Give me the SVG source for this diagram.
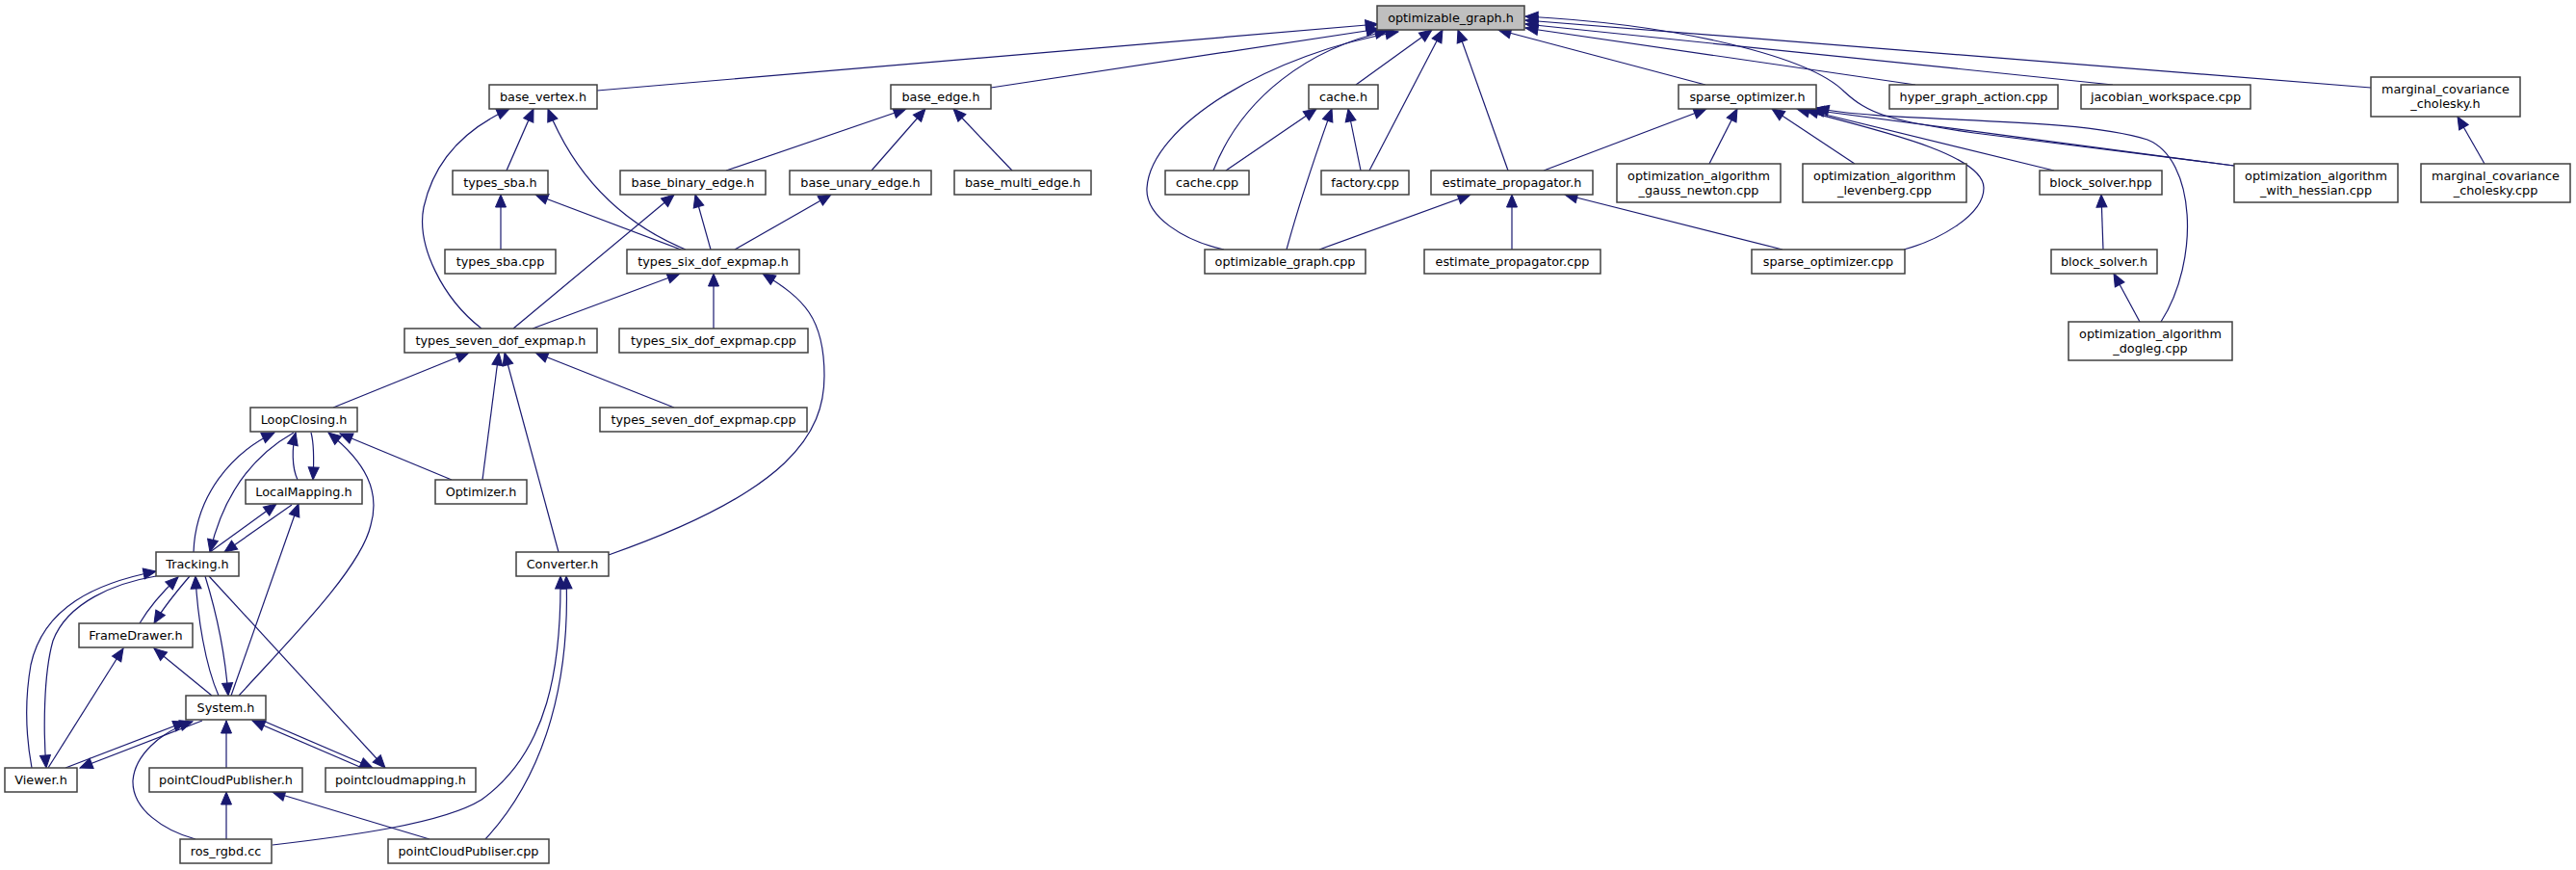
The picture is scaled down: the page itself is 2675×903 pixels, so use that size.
<svg xmlns="http://www.w3.org/2000/svg" width="2675" height="903" viewBox="0 0 2675 903">
<style>
.n{fill:#ffffff;stroke:#404040;stroke-width:1.5}
.r{fill:#bfbfbf;stroke:#404040;stroke-width:1.5}
text{font-family:"DejaVu Sans","Liberation Sans",sans-serif;font-size:12.8px;fill:#000;text-anchor:middle}
.e{fill:none;stroke:#191970;stroke-width:1.2;marker-start:url(#a)}
</style>
<defs>
<marker id="a" markerUnits="userSpaceOnUse" markerWidth="16" markerHeight="14" viewBox="0 -7 16 14" refX="13" refY="0" orient="auto-start-reverse" overflow="visible">
<path d="M0,-5.5L13,0L0,5.5z" fill="#191970" stroke="#191970" stroke-width="1"/>
</marker>
</defs>
<rect width="2675" height="903" fill="#ffffff"/>
<g id="edges">
<path class="e" d="M1431,25L620,94"/>
<path class="e" d="M1432,30L1029,91"/>
<path class="e" d="M1441,32C1360,50 1290,100 1260,177"/>
<path class="e" d="M1452,33C1320,55 1195,130 1191,195C1189,225 1230,250 1271,259"/>
<path class="e" d="M1487,31L1408,88"/>
<path class="e" d="M1498,31L1422,177"/>
<path class="e" d="M1514,31L1566,177"/>
<path class="e" d="M1556,31L1771,88"/>
<path class="e" d="M1584,29L1989,88"/>
<path class="e" d="M1584,25L2194,88"/>
<path class="e" d="M1584,21L2462,91"/>
<path class="e" d="M1584,17C1750,26 1880,60 1915,95C1940,118 1960,125 2050,138L2320,172"/>
<path class="e" d="M1772,113L1603,177"/>
<path class="e" d="M1804,113L1775,170"/>
<path class="e" d="M1840,113L1926,170"/>
<path class="e" d="M1866,113C1950,135 2060,160 2060,195C2060,225 2010,250 1977,259"/>
<path class="e" d="M1875,114L2133,177"/>
<path class="e" d="M1881,114L2320,172"/>
<path class="e" d="M1886,112C1960,128 2150,120 2230,145C2280,165 2285,270 2244,334"/>
<path class="e" d="M1367,113L1273,177"/>
<path class="e" d="M1383,113C1370,150 1352,200 1336,259"/>
<path class="e" d="M1400,113L1413,177"/>
<path class="e" d="M1527,202L1370,259"/>
<path class="e" d="M1570,202L1570,259"/>
<path class="e" d="M1625,202L1851,259"/>
<path class="e" d="M554,113L526,177"/>
<path class="e" d="M569,113C590,165 630,225 712,259"/>
<path class="e" d="M529,113C480,135 450,170 440,215C432,255 460,310 500,341"/>
<path class="e" d="M520,202L520,259"/>
<path class="e" d="M556,202L707,259"/>
<path class="e" d="M941,113L754,177"/>
<path class="e" d="M961,113L905,177"/>
<path class="e" d="M990,113L1051,177"/>
<path class="e" d="M722,202L738,259"/>
<path class="e" d="M700,202L533,341"/>
<path class="e" d="M863,202L763,259"/>
<path class="e" d="M706,284L553,341"/>
<path class="e" d="M741,284L741,341"/>
<path class="e" d="M792,284C835,310 856,330 856,390C856,450 820,510 632,576"/>
<path class="e" d="M487,366L346,423"/>
<path class="e" d="M518,366L501,498"/>
<path class="e" d="M524,366L580,573"/>
<path class="e" d="M556,366L700,423"/>
<path class="e" d="M285,449C240,470 203,515 201,573"/>
<path class="e" d="M218,573C228,530 250,480 305,449"/>
<path class="e" d="M307,449C303,465 303,485 309,498"/>
<path class="e" d="M325,498C326,480 326,460 323,449"/>
<path class="e" d="M353,450L469,498"/>
<path class="e" d="M341,449C380,480 395,510 385,545C375,590 300,665 248,722"/>
<path class="e" d="M287,523L218,573"/>
<path class="e" d="M233,573L303,524"/>
<path class="e" d="M310,523L240,722"/>
<path class="e" d="M203,598C205,640 213,690 227,722"/>
<path class="e" d="M237,722C234,680 226,640 213,598"/>
<path class="e" d="M185,599C168,615 155,630 145,647"/>
<path class="e" d="M160,647C170,630 185,612 197,598"/>
<path class="e" d="M162,593C100,605 45,630 32,690C25,730 28,770 33,797"/>
<path class="e" d="M48,797C45,760 45,700 55,665C70,625 120,605 162,598"/>
<path class="e" d="M400,797L217,598"/>
<path class="e" d="M160,673L220,722"/>
<path class="e" d="M128,673L50,797"/>
<path class="e" d="M193,749L68,797"/>
<path class="e" d="M83,797L210,748"/>
<path class="e" d="M200,749C165,760 140,785 138,810C137,840 170,862 203,871"/>
<path class="e" d="M235,748L235,797"/>
<path class="e" d="M262,748L376,797"/>
<path class="e" d="M387,797L273,748"/>
<path class="e" d="M235,822L235,871"/>
<path class="e" d="M283,822L446,871"/>
<path class="e" d="M582,598C583,690 570,780 500,830C460,855 360,868 283,877"/>
<path class="e" d="M588,598C592,700 570,800 504,871"/>
<path class="e" d="M2552,121L2580,170"/>
<path class="e" d="M2182,202L2184,259"/>
<path class="e" d="M2195,284L2222,334"/>
</g>
<g id="n_og"><rect class="r" x="1430" y="6" width="153" height="25"/><text x="1506.5" y="23">optimizable_graph.h</text></g>
<g id="n_bv"><rect class="n" x="508" y="88" width="112" height="25"/><text x="564" y="105">base_vertex.h</text></g>
<g id="n_be"><rect class="n" x="925" y="88" width="104" height="25"/><text x="977" y="105">base_edge.h</text></g>
<g id="n_ch"><rect class="n" x="1359" y="88" width="72" height="25"/><text x="1395" y="105">cache.h</text></g>
<g id="n_so"><rect class="n" x="1743" y="88" width="143" height="25"/><text x="1814.5" y="105">sparse_optimizer.h</text></g>
<g id="n_hga"><rect class="n" x="1962" y="88" width="175" height="25"/><text x="2049.5" y="105">hyper_graph_action.cpp</text></g>
<g id="n_jw"><rect class="n" x="2161" y="88" width="176" height="25"/><text x="2249" y="105">jacobian_workspace.cpp</text></g>
<g id="n_mch"><rect class="n" x="2462" y="80" width="155" height="41"/><text x="2539.5" y="97">marginal_covariance</text><text x="2539.5" y="112">_cholesky.h</text></g>
<g id="n_sba"><rect class="n" x="470" y="177" width="99" height="25"/><text x="519.5" y="194">types_sba.h</text></g>
<g id="n_bbe"><rect class="n" x="644" y="177" width="151" height="25"/><text x="719.5" y="194">base_binary_edge.h</text></g>
<g id="n_bue"><rect class="n" x="820" y="177" width="147" height="25"/><text x="893.5" y="194">base_unary_edge.h</text></g>
<g id="n_bme"><rect class="n" x="991" y="177" width="142" height="25"/><text x="1062" y="194">base_multi_edge.h</text></g>
<g id="n_ccpp"><rect class="n" x="1210" y="177" width="87" height="25"/><text x="1253.5" y="194">cache.cpp</text></g>
<g id="n_fac"><rect class="n" x="1372" y="177" width="91" height="25"/><text x="1417.5" y="194">factory.cpp</text></g>
<g id="n_ep"><rect class="n" x="1486" y="177" width="168" height="25"/><text x="1570" y="194">estimate_propagator.h</text></g>
<g id="n_gn"><rect class="n" x="1679" y="170" width="170" height="40"/><text x="1764" y="187">optimization_algorithm</text><text x="1764" y="202">_gauss_newton.cpp</text></g>
<g id="n_lev"><rect class="n" x="1872" y="170" width="170" height="40"/><text x="1957" y="187">optimization_algorithm</text><text x="1957" y="202">_levenberg.cpp</text></g>
<g id="n_bshpp"><rect class="n" x="2118" y="177" width="127" height="25"/><text x="2181.5" y="194">block_solver.hpp</text></g>
<g id="n_hes"><rect class="n" x="2320" y="170" width="170" height="40"/><text x="2405" y="187">optimization_algorithm</text><text x="2405" y="202">_with_hessian.cpp</text></g>
<g id="n_mccpp"><rect class="n" x="2514" y="170" width="155" height="40"/><text x="2591.5" y="187">marginal_covariance</text><text x="2591.5" y="202">_cholesky.cpp</text></g>
<g id="n_sbacpp"><rect class="n" x="462" y="259" width="115" height="25"/><text x="519.5" y="276">types_sba.cpp</text></g>
<g id="n_tsix"><rect class="n" x="651" y="259" width="179" height="25"/><text x="740.5" y="276">types_six_dof_expmap.h</text></g>
<g id="n_ogcpp"><rect class="n" x="1251" y="259" width="167" height="25"/><text x="1334.5" y="276">optimizable_graph.cpp</text></g>
<g id="n_epcpp"><rect class="n" x="1479" y="259" width="183" height="25"/><text x="1570.5" y="276">estimate_propagator.cpp</text></g>
<g id="n_socpp"><rect class="n" x="1819" y="259" width="159" height="25"/><text x="1898.5" y="276">sparse_optimizer.cpp</text></g>
<g id="n_bsh"><rect class="n" x="2130" y="259" width="110" height="25"/><text x="2185" y="276">block_solver.h</text></g>
<g id="n_dog"><rect class="n" x="2148" y="334" width="170" height="40"/><text x="2233" y="351">optimization_algorithm</text><text x="2233" y="366">_dogleg.cpp</text></g>
<g id="n_tse"><rect class="n" x="420" y="341" width="200" height="25"/><text x="520" y="358">types_seven_dof_expmap.h</text></g>
<g id="n_tsixcpp"><rect class="n" x="643" y="341" width="196" height="25"/><text x="741" y="358">types_six_dof_expmap.cpp</text></g>
<g id="n_lc"><rect class="n" x="260" y="423" width="111" height="25"/><text x="315.5" y="440">LoopClosing.h</text></g>
<g id="n_tsecpp"><rect class="n" x="623" y="423" width="215" height="25"/><text x="730.5" y="440">types_seven_dof_expmap.cpp</text></g>
<g id="n_lm"><rect class="n" x="255" y="498" width="121" height="25"/><text x="315.5" y="515">LocalMapping.h</text></g>
<g id="n_opt"><rect class="n" x="452" y="498" width="95" height="25"/><text x="499.5" y="515">Optimizer.h</text></g>
<g id="n_tr"><rect class="n" x="162" y="573" width="86" height="25"/><text x="205" y="590">Tracking.h</text></g>
<g id="n_conv"><rect class="n" x="536" y="573" width="96" height="25"/><text x="584" y="590">Converter.h</text></g>
<g id="n_fd"><rect class="n" x="82" y="647" width="118" height="25"/><text x="141" y="664">FrameDrawer.h</text></g>
<g id="n_sys"><rect class="n" x="193" y="722" width="83" height="25"/><text x="234.5" y="739">System.h</text></g>
<g id="n_view"><rect class="n" x="5" y="797" width="75" height="25"/><text x="42.5" y="814">Viewer.h</text></g>
<g id="n_pcph"><rect class="n" x="155" y="797" width="159" height="25"/><text x="234.5" y="814">pointCloudPublisher.h</text></g>
<g id="n_pcm"><rect class="n" x="338" y="797" width="156" height="25"/><text x="416" y="814">pointcloudmapping.h</text></g>
<g id="n_ros"><rect class="n" x="187" y="871" width="95" height="25"/><text x="234.5" y="888">ros_rgbd.cc</text></g>
<g id="n_pcpcpp"><rect class="n" x="403" y="871" width="167" height="25"/><text x="486.5" y="888">pointCloudPubliser.cpp</text></g>
</svg>
